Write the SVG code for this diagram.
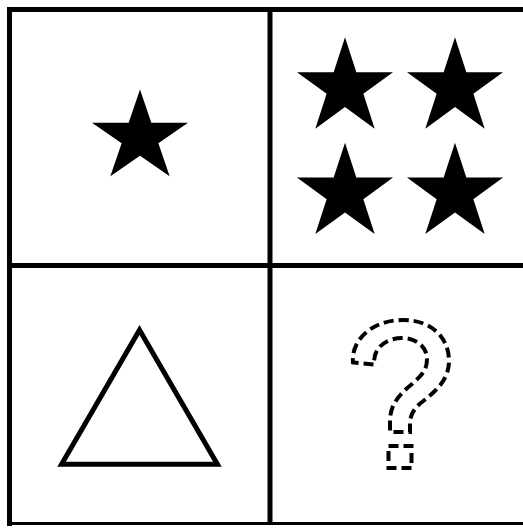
<svg xmlns="http://www.w3.org/2000/svg" xmlns:xlink="http://www.w3.org/1999/xlink" width="523" height="529" viewBox="0 0 523 529">
  <style>
    .line { stroke: #000; fill: none; }
    .star { fill: #000; stroke: none; }
    .dash { fill: none; stroke: #000; stroke-width: 4; stroke-dasharray: 10 5; stroke-linejoin: miter; }
  </style>
  <defs>
    <polygon id="star" points="0,-50.5 11.34,-15.6 48.03,-15.6 18.35,5.96 29.68,40.86 0,19.29 -29.68,40.86 -18.35,5.96 -48.03,-15.6 -11.34,-15.6"/>
  </defs>
  <rect x="0" y="0" width="523" height="529" fill="#fff"/>
  <g id="grid">
    <path class="line" stroke-width="5" d="M7,9.5 H523 M9.5,7 V526 M270,9.5 V524 M9.5,265.5 H523"/>
    <path class="line" stroke-width="3" d="M7,523.5 H523"/>
  </g>
  <g id="cell-one-star">
    <use class="star" xlink:href="#star" href="#star" transform="translate(140,137.5) scale(1,0.95)"/>
  </g>
  <g id="cell-four-stars">
    <use class="star" xlink:href="#star" href="#star" transform="translate(345,87.8)"/>
    <use class="star" xlink:href="#star" href="#star" transform="translate(455,87.8)"/>
    <use class="star" xlink:href="#star" href="#star" transform="translate(345,193.2)"/>
    <use class="star" xlink:href="#star" href="#star" transform="translate(455,193.2)"/>
  </g>
  <g id="cell-triangle">
    <polygon class="line" stroke-width="5" points="139.5,330 217.4,464.2 61.6,464.2"/>
  </g>
  <g id="cell-question">
    <path class="dash" d="M373.5,364.5 L353,362.5 C351,340 372,320 403,320 C432,320 449,338 449,361 C449,380 435,392 422,402 C413,409 410,416 410,424 L410,432 L390,432 L390,421 C390,404 400,394 412,384 C422,375 427,370 427,359 C427,346 415,338 402,338 C388,338 376,346 374.5,358 Z"/>
    <rect class="dash" x="388.5" y="446" width="23" height="22"/>
  </g>
</svg>
